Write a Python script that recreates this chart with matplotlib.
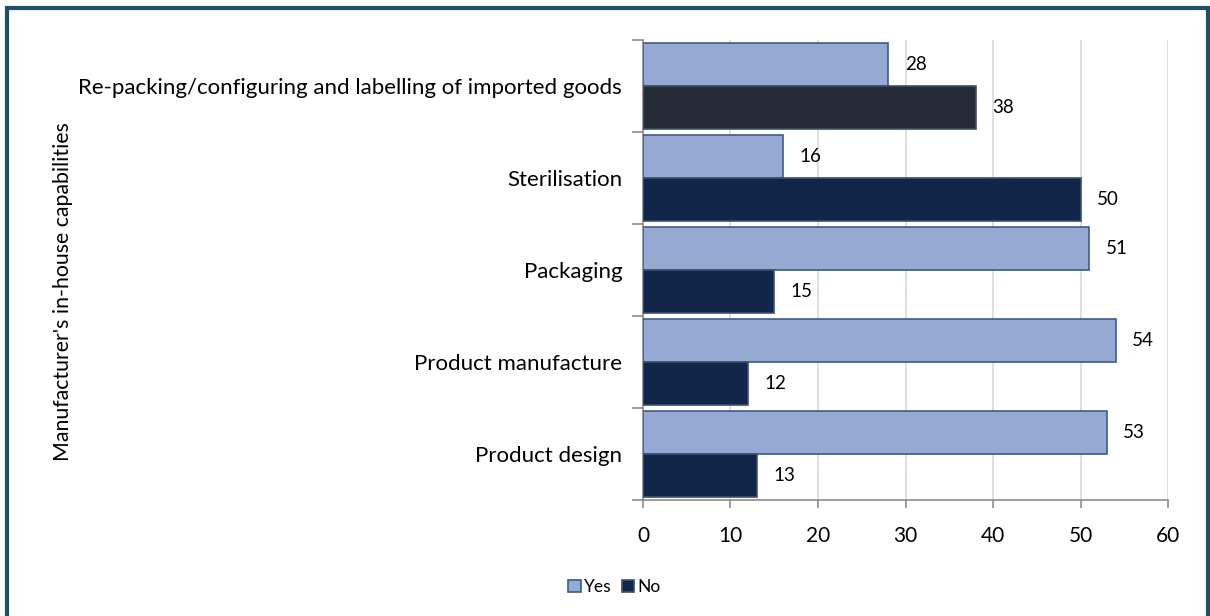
import matplotlib.pyplot as plt
from matplotlib.patches import Rectangle

plt.rcParams['font.family'] = ['Lato', 'DejaVu Sans']

categories = ['Product design', 'Product manufacture', 'Packaging',
              'Sterilisation', 'Re-packing/configuring and labelling of imported goods']
yes_vals = [53, 54, 51, 16, 28]
no_vals = [13, 12, 15, 50, 38]
no_colors = ['#12264a', '#12264a', '#12264a', '#12264a', '#252b37']

fig = plt.figure(figsize=(12.1, 6.16), dpi=100)
ax = fig.add_axes([0.5314, 0.1883, 0.4339, 0.7467])

h = 0.47
pos = list(range(len(categories)))
ax.barh([p + h / 2 for p in pos], yes_vals, height=h, color='#95a9d3',
        edgecolor='#3b5b8c', linewidth=1.2, label='Yes', zorder=3)
ax.barh([p - h / 2 for p in pos], no_vals, height=h, color=no_colors,
        edgecolor='#3d5070', linewidth=1.2, label='No', zorder=3)

for p, v in zip(pos, yes_vals):
    ax.text(v + 1.9, p + h / 2, str(v), va='center', ha='left', fontsize=13.5)
for p, v in zip(pos, no_vals):
    ax.text(v + 1.9, p - h / 2, str(v), va='center', ha='left', fontsize=13.5)

ax.set_xlim(0, 60)
ax.set_ylim(-0.5, 4.5)
ax.set_xticks(range(0, 61, 10))
ax.set_yticks(pos)
ax.set_yticklabels(categories, fontsize=16)
ax.set_yticks([p + 0.5 for p in [-1] + pos], minor=True)
ax.tick_params(axis='y', which='major', length=0, pad=15)
ax.tick_params(axis='y', which='minor', length=8, width=1.2, color='#8c8c8c', direction='out')
ax.tick_params(axis='x', length=6, width=1.2, color='#8c8c8c', labelsize=15, pad=13)
ax.grid(axis='x', color='#d9d9d9', linewidth=1.2, zorder=0)

for side in ['top', 'right']:
    ax.spines[side].set_visible(False)
for side in ['left', 'bottom']:
    ax.spines[side].set_color('#8c8c8c')
    ax.spines[side].set_linewidth(1.2)

fig.text(0.052, 0.526, "Manufacturer's in-house capabilities", rotation=90,
         va='center', ha='center', fontsize=15.3)

fig.legend(loc='center', bbox_to_anchor=(0.508, 0.047), ncol=2, frameon=False,
           fontsize=12.5, handlelength=0.7, handleheight=0.7, handletextpad=0.2,
           columnspacing=0.6)

# outer frame
fig.patches.append(Rectangle((6.5 / 1210, -0.05), 1201 / 1210, 1.05 - 8 / 616,
                             transform=fig.transFigure, fill=False,
                             edgecolor='#1f4e68', linewidth=3, zorder=10))

fig.savefig('out.png', dpi=100)
